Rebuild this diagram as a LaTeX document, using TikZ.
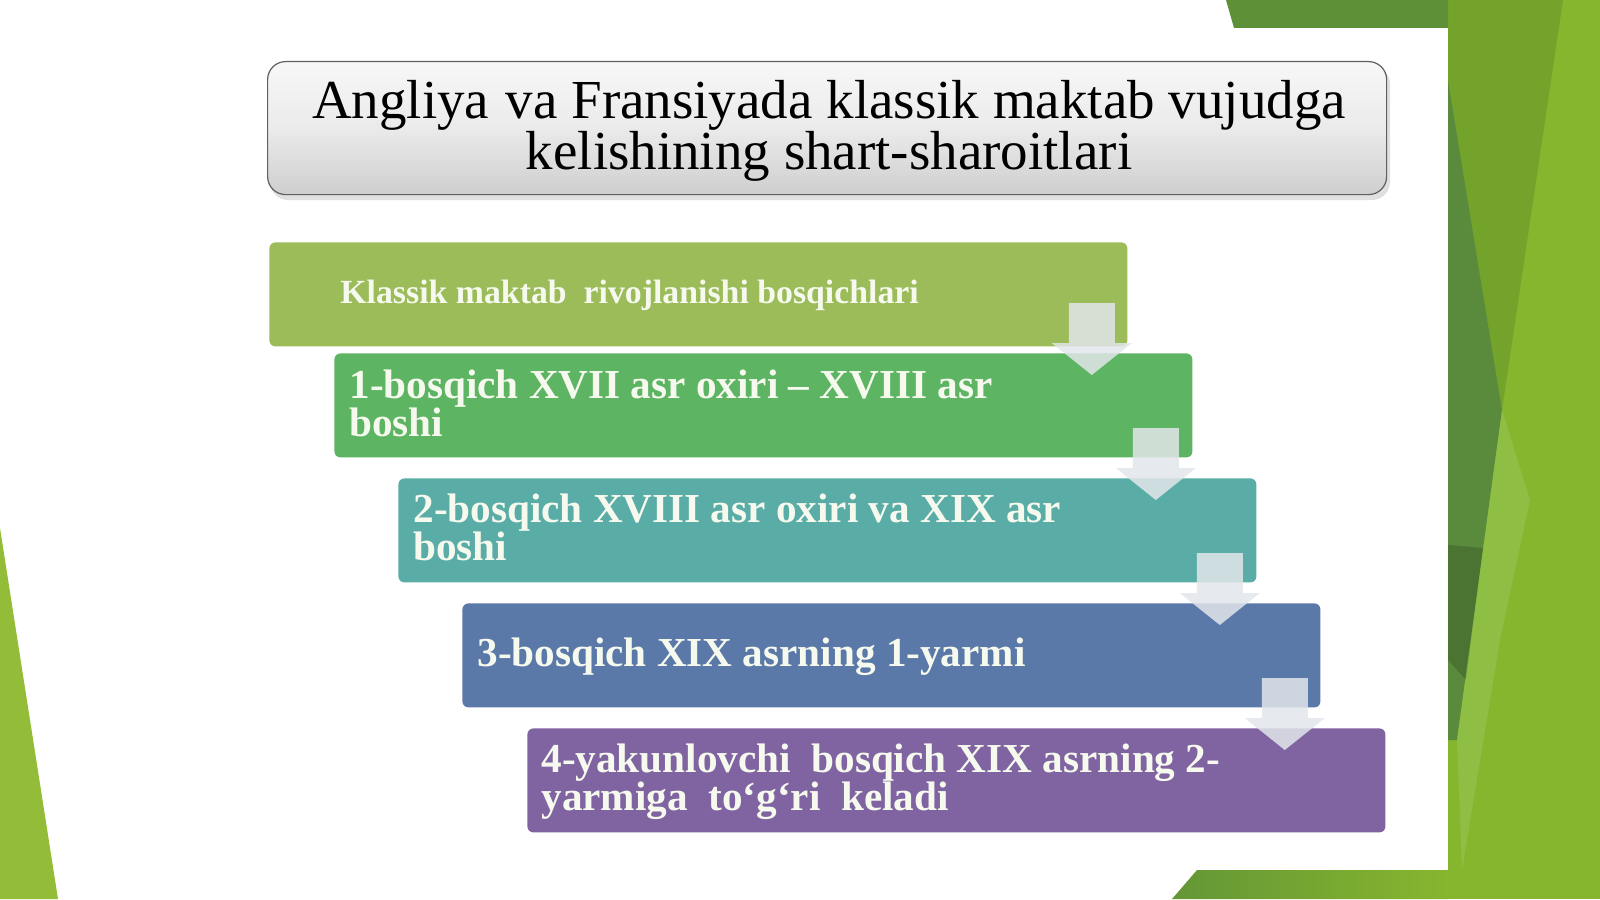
\documentclass[tikz,border=0pt]{standalone}
\usepackage{fontspec}
\setmainfont{Liberation Serif}
\usetikzlibrary{calc}
\definecolor{hdrc}{HTML}{9CBC5A}
\definecolor{oneC}{HTML}{5DB563}
\definecolor{twoC}{HTML}{5AADA7}
\definecolor{threeC}{HTML}{5B79A8}
\definecolor{fourC}{HTML}{8064A2}
\definecolor{limeC}{HTML}{86B62E}
\definecolor{oliveC}{HTML}{74A32C}
\definecolor{darkC}{HTML}{5A8A3C}
\definecolor{hiC}{HTML}{9CC860}
\definecolor{topC}{HTML}{5E9038}
\definecolor{leftC}{HTML}{93BD38}
\definecolor{arrowC}{HTML}{E2E6EA}
\definecolor{textC}{HTML}{F6F9EE}
\tikzset{
  stagebox/.style={rectangle, rounded corners=3pt, draw=none, inner sep=0pt,
    minimum width=429pt, minimum height=52pt, anchor=north west},
  stagetext/.style={anchor=base west, inner sep=0pt, text=textC,
    font=\bfseries\fontsize{20.6}{19}\selectfont},
  arrowfill/.style={fill=arrowC, fill opacity=0.85},
  downarrow/.pic={
    \fill[arrowfill] (-124,-50) -- (-78,-50) -- (-78,-10) -- (-61,-10)
      -- (-101,22) -- (-141,-10) -- (-124,-10) -- cycle;
  }
}
\begin{document}
\begin{tikzpicture}[x=0.5pt,y=-0.5pt]
\useasboundingbox (0,0) rectangle (1600,899);
\fill[white] (0,0) rectangle (1600,899);
% decorative background
\fill[leftC] (0,528) -- (58,899) -- (0,899) -- cycle;
\fill[limeC] (1448,0) rectangle (1600,899);
\fill[oliveC] (1448,0) -- (1563,0) -- (1502,410) -- (1448,80) -- cycle;
\fill[darkC] (1448,80) -- (1502,410) -- (1457,740) -- (1448,740) -- cycle;
\fill[black!40!darkC, opacity=0.4] (1448,545) -- (1483,548) -- (1466,680) -- (1448,660) -- cycle;
\fill[hiC, opacity=0.45] (1502,410) -- (1530,500) -- (1500,640) -- (1462,870) -- (1457,740) -- cycle;
\fill[topC] (1226,0) -- (1448,0) -- (1448,28) -- (1234,28) -- cycle;
\shade[left color=topC!85!limeC, right color=limeC] (1197,870) -- (1448,870) -- (1448,899) -- (1172,899) -- cycle;
% title
\fill[black, opacity=0.12, rounded corners=9pt] (270,66) rectangle (1390,200);
\node[rectangle, rounded corners=9pt, draw=gray!75!black, line width=0.6pt,
  top color=gray!6, bottom color=gray!38, middle color=gray!16,
  minimum width=559.5pt, minimum height=66.5pt, anchor=north west, inner sep=0pt]
  (title) at (267,61) {};
\node[anchor=base, inner sep=0pt, font=\fontsize{27.5}{25.5}\selectfont] (titletext) at (829,119)
  {\vtop{\halign{\hfil#\hfil\cr Angliya\hspace{0.3em}va Fransiyada klassik maktab vujudga\cr kelishining shart-sharoitlari\cr}}};
% stages
\node[stagebox, fill=hdrc] (h) at (269,242) {};
\node[anchor=base west, inner sep=0pt, text=textC, font=\bfseries\fontsize{16.9}{18}\selectfont] (ht) at (340,303)
  {Klassik maktab\ \ rivojlanishi bosqichlari};
\node[stagebox, fill=oneC] (b1) at (334,353) {};
\pic at (b1.north east) {downarrow};
\node[stagetext] (t1) at (349,398) {\vtop{\hbox{1-bosqich XVII asr oxiri – XVIII asr}\hbox{boshi}}};
\node[stagebox, fill=twoC] (b2) at (398,478) {};
\pic at (b2.north east) {downarrow};
\node[stagetext] (t2) at (413,522) {\vtop{\hbox{2-bosqich XVIII asr oxiri va XIX asr}\hbox{boshi}}};
\node[stagebox, fill=threeC] (b3) at (462,603) {};
\pic at (b3.north east) {downarrow};
\node[stagetext] (t3) at (477,666) {3-bosqich XIX asrning 1-yarmi};
\node[stagebox, fill=fourC] (b4) at (527,728) {};
\pic at (b4.north east) {downarrow};
\node[stagetext] (t4) at (541,772) {\vtop{\hbox{4-yakunlovchi\ \ bosqich XIX asrning 2-}\hbox{yarmiga\ \ to‘g‘ri\ \ keladi}}};
\end{tikzpicture}
\end{document}
